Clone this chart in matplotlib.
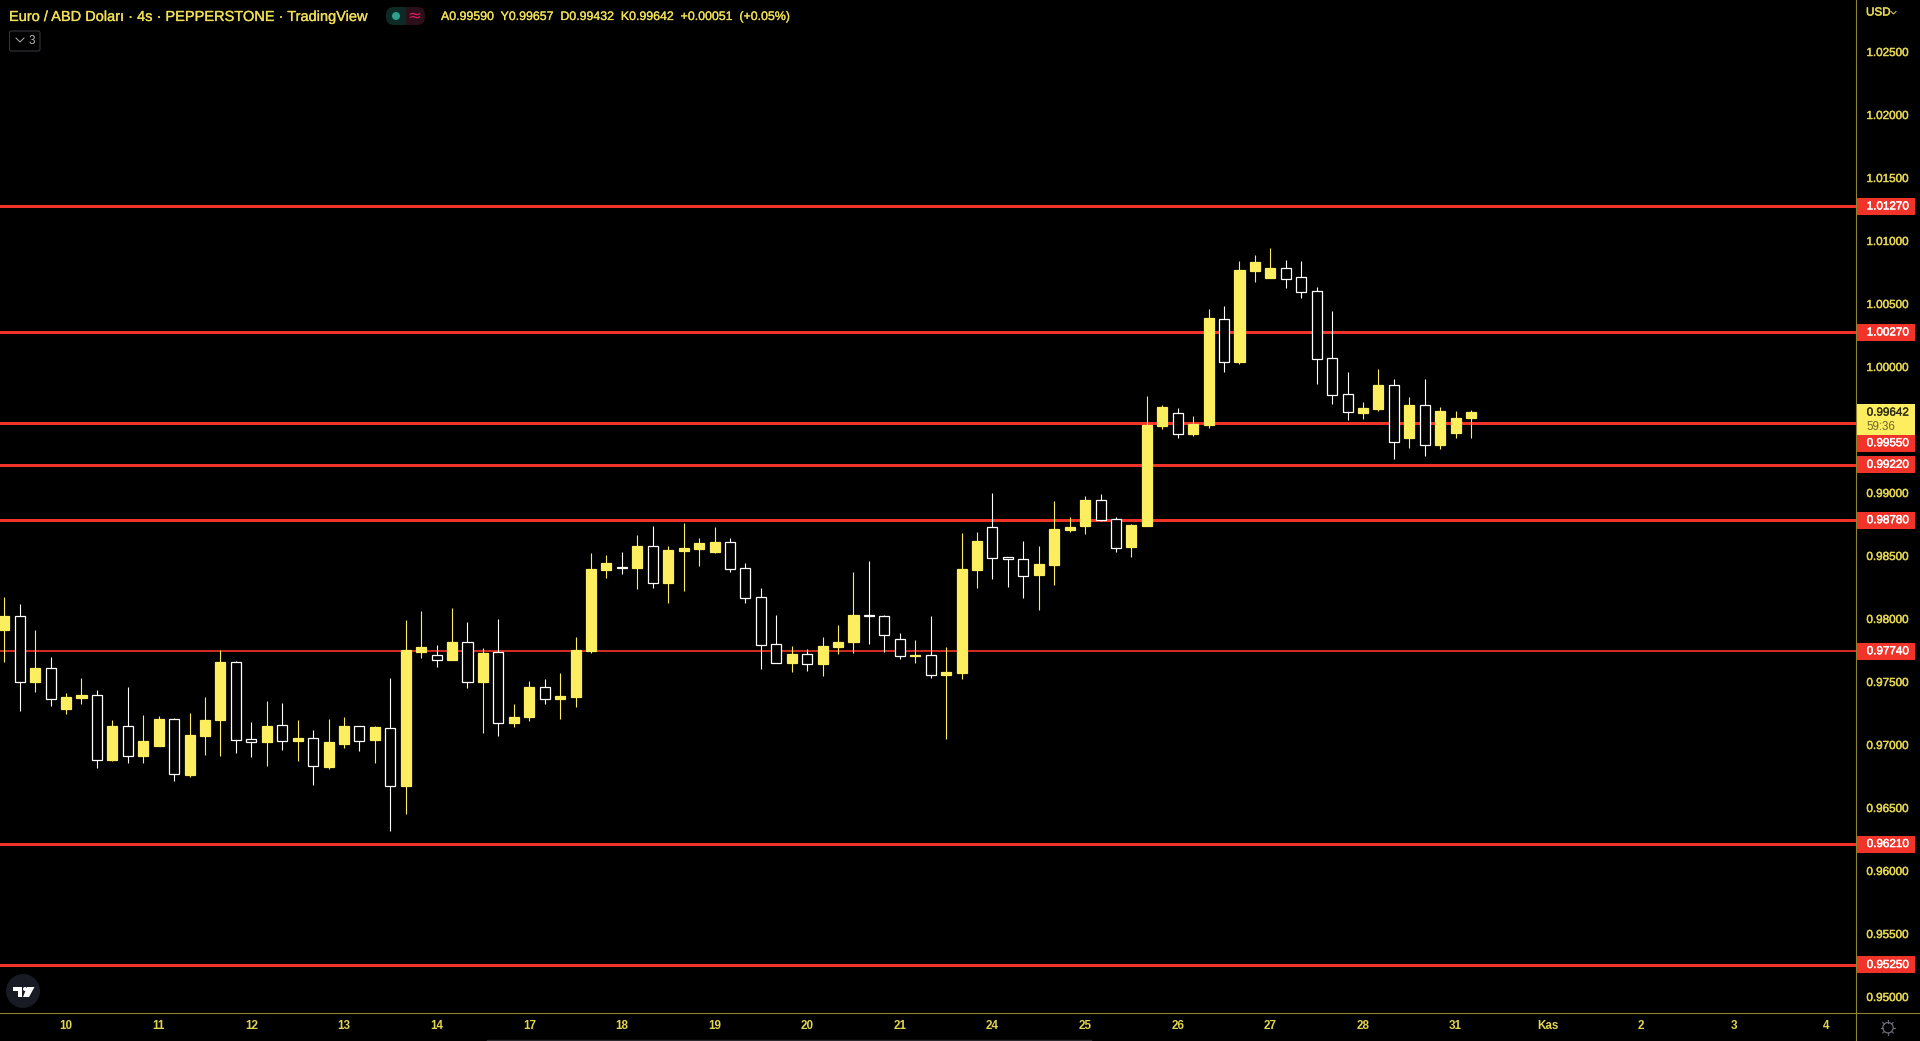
import matplotlib
matplotlib.use("Agg")
import numpy as np
import matplotlib.pyplot as plt
import matplotlib.patheffects as pe
from matplotlib.patches import Rectangle, FancyBboxPatch, Circle, Polygon
from matplotlib.transforms import blended_transform_factory

plt.rcParams['font.family'] = ['Liberation Sans', 'DejaVu Sans']

opens = [0.97908,0.98020,0.97496,0.97604,0.97281,0.97369,0.97390,0.96877,0.97144,0.96908,
         0.96988,0.97199,0.96758,0.97067,0.97194,0.97652,0.97041,0.97020,0.97152,0.97027,
         0.97049,0.96821,0.97004,0.97144,0.97035,0.97128,0.96670,0.97734,0.97707,0.97670,
         0.97811,0.97496,0.97731,0.97170,0.97218,0.97453,0.97361,0.97377,0.97742,0.98384,
         0.98408,0.98400,0.98572,0.98281,0.98535,0.98551,0.98527,0.98604,0.98398,0.98168,
         0.97794,0.97646,0.97715,0.97638,0.97773,0.97813,0.98027,0.98017,0.97834,0.97702,
         0.97707,0.97552,0.97568,0.98385,0.98726,0.98488,0.98470,0.98345,0.98425,0.98703,
         0.98734,0.98938,0.98787,0.98568,0.98734,0.99528,0.99628,0.99464,0.99535,1.00374,
         1.00035,1.00758,1.00702,1.00779,1.00707,1.00596,1.00064,0.99779,0.99631,0.99662,
         0.99850,0.99432,0.99691,0.99377,0.99472,0.99590]
closes = [0.98020,0.97498,0.97607,0.97363,0.97377,0.97393,0.96879,0.97147,0.96911,0.97027,
          0.97202,0.96768,0.97075,0.97194,0.97654,0.97038,0.97022,0.97147,0.97030,0.97051,
          0.96832,0.97020,0.97147,0.97030,0.97139,0.96673,0.97750,0.97774,0.97673,0.97813,
          0.97498,0.97726,0.97173,0.97218,0.97456,0.97363,0.97384,0.97750,0.98392,0.98440,
          0.98400,0.98575,0.98284,0.98543,0.98559,0.98599,0.98607,0.98395,0.98165,0.97792,
          0.97649,0.97718,0.97641,0.97781,0.97813,0.98027,0.98019,0.97871,0.97705,0.97710,
          0.97554,0.97576,0.98393,0.98615,0.98483,0.98472,0.98340,0.98433,0.98710,0.98726,
          0.98941,0.98785,0.98562,0.98742,0.99536,0.99679,0.99467,0.99544,1.00385,1.00038,
          1.00766,1.00829,1.00781,1.00697,1.00594,1.00062,0.99776,0.99641,0.99670,0.99853,
          0.99403,0.99694,0.99379,0.99646,0.99591,0.99642]
highs = [0.98170,0.98115,0.97908,0.97694,0.97408,0.97527,0.97432,0.97194,0.97456,0.97234,
         0.97226,0.97210,0.97250,0.97377,0.97750,0.97662,0.97178,0.97345,0.97329,0.97194,
         0.97115,0.97202,0.97218,0.97147,0.97147,0.97527,0.97988,0.98059,0.97789,0.98083,
         0.97972,0.97766,0.97996,0.97321,0.97503,0.97519,0.97567,0.97853,0.98519,0.98503,
         0.98527,0.98662,0.98734,0.98575,0.98757,0.98638,0.98726,0.98638,0.98440,0.98242,
         0.98027,0.97781,0.97757,0.97853,0.97948,0.98369,0.98456,0.98027,0.97884,0.97829,
         0.98019,0.97774,0.98679,0.98687,0.98996,0.98488,0.98615,0.98576,0.98933,0.98806,
         0.98972,0.98988,0.98806,0.98750,0.99766,0.99695,0.99671,0.99607,1.00456,1.00480,
         1.00837,1.00885,1.00940,1.00845,1.00837,1.00631,1.00440,0.99956,0.99718,0.99980,
         0.99900,0.99758,0.99900,0.99678,0.99646,0.99657]
lows = [0.97654,0.97266,0.97416,0.97305,0.97242,0.97321,0.96813,0.96869,0.96853,0.96853,
        0.96988,0.96710,0.96742,0.96916,0.96908,0.96932,0.96901,0.96829,0.96956,0.96869,
        0.96678,0.96805,0.96972,0.96948,0.96853,0.96313,0.96448,0.97686,0.97615,0.97670,
        0.97448,0.97091,0.97067,0.97138,0.97186,0.97321,0.97202,0.97297,0.97726,0.98321,
        0.98353,0.98234,0.98242,0.98123,0.98218,0.98416,0.98519,0.98369,0.98123,0.97599,
        0.97649,0.97575,0.97583,0.97543,0.97718,0.97726,0.97797,0.97734,0.97678,0.97646,
        0.97527,0.97044,0.97520,0.98242,0.98314,0.98250,0.98163,0.98068,0.98266,0.98687,
        0.98671,0.98774,0.98528,0.98488,0.98734,0.99504,0.99433,0.99449,0.99512,0.99956,
        1.00020,1.00670,1.00702,1.00623,1.00543,0.99861,0.99702,0.99575,0.99583,0.99646,
        0.99266,0.99353,0.99289,0.99345,0.99432,0.99432]

levels = [1.0127, 1.0027, 0.9955, 0.9922, 0.9878, 0.9774, 0.9621, 0.9525]
level_widths = [3, 3, 3, 3, 3, 1.7, 3, 3]
last_price = 0.99642

price_ticks = [1.025, 1.02, 1.015, 1.01, 1.005, 1.0, 0.99, 0.985, 0.98, 0.975,
               0.97, 0.965, 0.96, 0.955, 0.95]
day_bars = [4, 10, 16, 22, 28, 34, 40, 46, 52, 58, 64, 70, 76, 82, 88, 94, 100, 106, 112, 118]
day_labels = ['10', '11', '12', '13', '14', '17', '18', '19', '20', '21',
              '24', '25', '26', '27', '28', '31', 'Kas', '2', '3', '4']

BG = '#000000'
YEL = '#fdee5f'
WHT = '#ffffff'
RED = '#f23329'
TXT = '#e3d550'
AXL = '#8d8230'
PX = 1 / 12600.0   # price per pixel


def thicker(t, col, w=0.35):
    # browser text is heavier than agg text
    t.set_path_effects([pe.withStroke(linewidth=w, foreground=col)])


fig = plt.figure(figsize=(19.2, 10.41), dpi=100, facecolor=BG)
ax = fig.add_axes([0, 28 / 1041, 1856 / 1920, 1013 / 1041], facecolor=BG)
ax.set_xlim(-0.2785, 119.93)
ax.set_ylim(0.94869, 1.029087)
for s in ax.spines.values():
    s.set_visible(False)

for lv, lw in zip(levels, level_widths):
    ax.axhline(lv, color=RED, lw=lw * 0.72, zorder=1)

x = np.arange(len(opens))
o = np.array(opens)
c = np.array(closes)
up = c >= o
ax.vlines(x[up], np.array(lows)[up], np.array(highs)[up], color=YEL, lw=0.8, zorder=2)
ax.vlines(x[~up], np.array(lows)[~up], np.array(highs)[~up], color=WHT, lw=0.8, zorder=2)
ax.bar(x[up], (c - o)[up], bottom=o[up], width=0.65, facecolor=YEL, edgecolor=YEL, lw=0.9, zorder=3)
ax.bar(x[~up], (o - c)[~up], bottom=c[~up], width=0.65, facecolor=BG, edgecolor=WHT, lw=0.9, zorder=3)

ax.yaxis.tick_right()
ax.set_yticks(price_ticks, ['%.5f' % p for p in price_ticks])
ax.tick_params(axis='y', length=0, pad=7.5, labelsize=8.4, labelcolor=TXT)
ax.set_xticks(day_bars, day_labels)
ax.tick_params(axis='x', length=0, pad=5, labelsize=8.4, labelcolor=TXT)
for t in ax.get_yticklabels():
    thicker(t, TXT)
for t in ax.get_xticklabels():
    t.set_fontweight('bold')

# price boxes on the right scale, 0.9955 is pushed down by the last price box
tr = blended_transform_factory(ax.transAxes, ax.transData)
box_w = 59 / 1856
for lv in levels:
    ly = lv - 20 * PX if lv == 0.9955 else lv
    ax.add_patch(Rectangle((1, ly - 8.5 * PX), box_w, 17 * PX, transform=tr, color=RED,
                           clip_on=False, zorder=5, lw=0))
    t = ax.text(1 + 10.7 / 1856, ly, '%.5f' % lv, transform=tr, color='white', fontsize=8.4,
                va='center', ha='left', zorder=6, clip_on=False)
    thicker(t, 'white')
ax.add_patch(Rectangle((1, last_price + 7.5 * PX), box_w, -31 * PX, transform=tr, color=YEL,
                       clip_on=False, zorder=5, lw=0))
t = ax.text(1 + 10.7 / 1856, last_price - 1 * PX, '%.5f' % last_price, transform=tr, color='#2b2a10',
            fontsize=8.4, va='center', ha='left', zorder=6, clip_on=False)
thicker(t, '#2b2a10', 0.2)
ax.text(1 + 10.7 / 1856, last_price - 15 * PX, '59:36', transform=tr, color='#6e6628',
        fontsize=8.4, va='center', ha='left', zorder=6, clip_on=False)

# chrome, in screen pixels
ov = fig.add_axes([0, 0, 1, 1], facecolor='none')
ov.set_xlim(0, 1920)
ov.set_ylim(1041, 0)
ov.axis('off')
ov.plot([1856, 1856], [0, 1041], color=AXL, lw=0.8)
ov.plot([0, 1920], [1013, 1013], color=AXL, lw=0.8)
ov.plot([487, 1091], [1040, 1040], color='#2c2c30', lw=1)

t = ov.text(9, 17, 'Euro / ABD Doları · 4s · PEPPERSTONE · TradingView', color='#f0df55',
            fontsize=10.5, va='center', ha='left')
thicker(t, '#f0df55', 0.2)
t = ov.text(441, 17, 'A0.99590  Y0.99657  D0.99432  K0.99642  +0.00051  (+0.05%)', color='#f0df55',
            fontsize=8.9, va='center', ha='left')
thicker(t, '#f0df55', 0.2)
ov.add_patch(FancyBboxPatch((386, 7), 20, 18, boxstyle='round,pad=0,rounding_size=8',
                            fc='#0c2a26', ec='none'))
ov.add_patch(Rectangle((396, 7), 10, 18, fc='#0c2a26', ec='none'))
ov.add_patch(Rectangle((406, 7), 10, 18, fc='#2b101a', ec='none'))
ov.add_patch(FancyBboxPatch((408, 7), 17, 18, boxstyle='round,pad=0,rounding_size=8',
                            fc='#2b101a', ec='none'))
ov.add_patch(Circle((396, 16), 4, fc='#2f9e8c', ec='none'))
ov.text(414, 15.5, '≈', color='#d81b60', fontsize=12, va='center', ha='center', family='DejaVu Sans')

ov.add_patch(FancyBboxPatch((9.5, 31), 30.5, 20, boxstyle='round,pad=0,rounding_size=2',
                            fc='none', ec='#33343c', lw=0.8))
ov.plot([16, 20, 24], [38, 42, 38], color='#b5b5b5', lw=0.7)
ov.text(32, 41, '3', color='#b5b5b5', fontsize=8.5, va='center', ha='center')

t = ov.text(1866, 12.5, 'USD', color=TXT, fontsize=8.4, va='center', ha='left')
thicker(t, TXT)
ov.plot([1891, 1893.5, 1896], [11.5, 14, 11.5], color=TXT, lw=0.7)

# logo
ov.add_patch(Circle((23, 991), 17, fc='#191b24', ec='none'))
ov.add_patch(Polygon([(13, 987), (22, 987), (22, 997), (17.5, 997), (17.5, 991), (13, 991)], fc='white', ec='none'))
ov.add_patch(Circle((25, 989), 2, fc='white', ec='none'))
ov.add_patch(Polygon([(27, 987), (34.5, 987), (29, 997), (23, 997)], fc='white', ec='none'))

# settings gear
ov.add_patch(Circle((1888, 1027.7), 5.2, fc='none', ec='#6a6d78', lw=0.9))
for a in np.arange(0, 360, 45):
    dx, dy = np.cos(np.radians(a)), np.sin(np.radians(a))
    ov.plot([1888 + 5.2 * dx, 1888 + 7.4 * dx], [1027.7 + 5.2 * dy, 1027.7 + 7.4 * dy],
            color='#6a6d78', lw=0.8)

fig.savefig('out.png', dpi=100, facecolor=BG)
